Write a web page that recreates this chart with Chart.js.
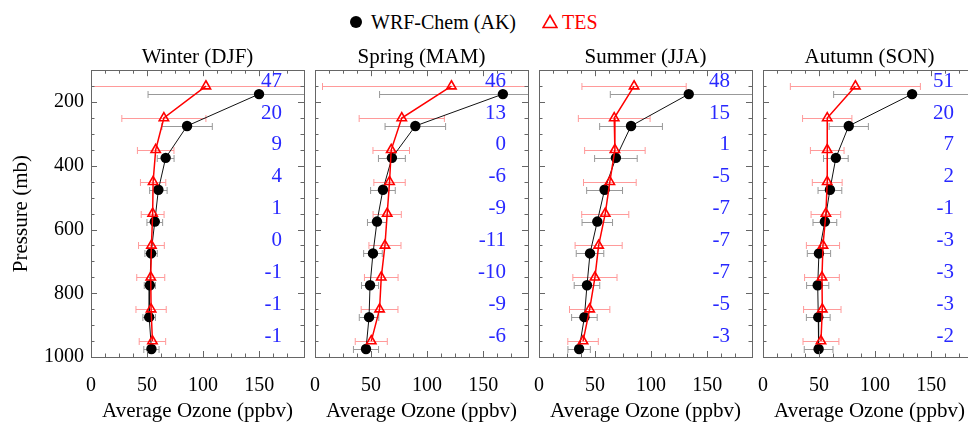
<!DOCTYPE html>
<html>
<head>
<meta charset="utf-8">
<script src="https://cdn.jsdelivr.net/npm/chart.js@4.4.1/dist/chart.umd.min.js"></script>
<style>
  body { margin: 0; width: 968px; height: 424px; overflow: hidden; background: #fff; position: relative;
         font-family: "Liberation Serif", "Times New Roman", serif; }
  canvas { position: absolute; top: 0; }
  .key { position: absolute; font-size: 20px; line-height: 24px; top: 10px; white-space: nowrap; }
  .dot { position: absolute; left: 350px; top: 16px; width: 12px; height: 12px; border-radius: 50%; background: #000; }
  .tri { position: absolute; left: 542px; top: 14px; }
</style>
</head>
<body>

<span class="dot"></span>
<span class="key" style="left:371px;color:#000">WRF-Chem (AK)</span>
<svg class="tri" width="16" height="15"><polygon points="8,1.5 15,13.5 1,13.5" fill="none" stroke="#ff0000" stroke-width="1.6"/></svg>
<span class="key" style="left:562px;color:#ff0000">TES</span>

<canvas id="panel0" width="311" height="424"></canvas>
<canvas id="panel1" width="311" height="424"></canvas>
<canvas id="panel2" width="311" height="424"></canvas>
<canvas id="panel3" width="311" height="424"></canvas>

<script>
var seasons = ["Winter (DJF)", "Spring (MAM)", "Summer (JJA)", "Autumn (SON)"];

// pressure levels (mb) of the two profiles
var tesPressure = [150, 250, 350, 450, 550, 650, 750, 850, 950];
var wrfPressure = [175, 275, 375, 475, 575, 675, 775, 875, 975];

// seasonal mean ozone (ppbv) and standard deviation
var wrfWinter   = [149.9, 85.7, 66.6, 60.1, 56.9, 53.6, 52.5, 51.9, 53.9];
var wrfWinterSd = [99, 22.5, 7.5, 7.8, 7, 5.5, 5, 5.6, 6.8];
var tesWinter   = [102.5, 65.0, 57.7, 55.4, 55.0, 53.9, 53.3, 53.6, 54.8];
var tesWinterSd = [110, 37.5, 16.3, 11.3, 10.2, 11.5, 12.5, 13.5, 11.8];

var wrfSpring   = [167.6, 89.5, 68.6, 60.6, 55.3, 51.7, 49.1, 48.2, 45.5];
var wrfSpringSd = [110, 27, 12, 11, 8.5, 8.3, 7.6, 8.7, 11.2];
var tesSpring   = [121.7, 77.4, 68.0, 66.5, 64.4, 62.4, 59.1, 57.6, 50.2];
var tesSpringSd = [115, 38, 16.3, 14, 12.6, 14.3, 15, 16.4, 14.3];

var wrfSummer   = [133.6, 82.1, 68.6, 58.5, 52.0, 45.5, 42.8, 40.5, 35.8];
var wrfSummerSd = [70, 28, 19, 16, 13.6, 12.3, 11.4, 11.4, 10];
var tesSummer   = [84.8, 67.1, 67.7, 63.2, 59.1, 53.2, 49.9, 45.2, 39.3];
var tesSummerSd = [46.5, 32, 27, 23.5, 21, 21, 19.7, 18, 13.6];

var wrfAutumn   = [133.0, 76.5, 65.0, 59.7, 55.2, 49.9, 48.8, 49.3, 49.6];
var wrfAutumnSd = [70, 17.5, 11, 10.6, 10.6, 10.4, 9.9, 10.6, 12.8];
var tesAutumn   = [82.4, 57.3, 57.3, 57.3, 56.1, 53.5, 52.6, 52.9, 51.7];
var tesAutumnSd = [58, 22, 15, 13.3, 13.2, 14.8, 15.5, 16.7, 16];

// model minus satellite difference printed beside each level
var biasWinter = [47, 20, 9, 4, 1, 0, -1, -1, -1];
var biasSpring = [46, 13, 0, -6, -9, -11, -10, -9, -6];
var biasSummer = [48, 15, 1, -5, -7, -7, -7, -5, -3];
var biasAutumn = [51, 20, 7, 2, -1, -3, -3, -3, -2];

var panelLeft = [91, 315, 539, 763];
var fontFamily = '"Liberation Serif", "Times New Roman", serif';

Chart.defaults.color = '#000';
Chart.defaults.font.family = fontFamily;
Chart.defaults.font.size = 20;

// horizontal error bars with end caps, drawn under the markers
var errorBars = {
  id: 'errorBars',
  beforeDatasetsDraw: function(chart) {
    var ctx = chart.ctx, area = chart.chartArea;
    var xs = chart.scales.x, ys = chart.scales.y;
    ctx.save();
    ctx.beginPath();
    ctx.rect(area.left, area.top, area.right - area.left, area.bottom - area.top);
    ctx.clip();
    chart.data.datasets.forEach(function(ds) {
      ctx.strokeStyle = ds.errorColor;
      ctx.lineWidth = 1;
      for (var i = 0; i < ds.data.length; i++) {
        var p = ds.data[i];
        var x1 = xs.getPixelForValue(p.x - ds.errors[i]);
        var x2 = xs.getPixelForValue(p.x + ds.errors[i]);
        var y = Math.round(ys.getPixelForValue(p.y)) + 0.5;
        ctx.beginPath();
        ctx.moveTo(x1, y); ctx.lineTo(x2, y);
        ctx.moveTo(x1, y - 3.5); ctx.lineTo(x1, y + 3.5);
        ctx.moveTo(x2, y - 3.5); ctx.lineTo(x2, y + 3.5);
        ctx.stroke();
      }
    });
    ctx.restore();
  }
};

// closed frame with inward tick marks on all four sides
var frame = {
  id: 'frame',
  afterDatasetsDraw: function(chart) {
    var ctx = chart.ctx, a = chart.chartArea;
    var xs = chart.scales.x, ys = chart.scales.y;
    ctx.save();
    ctx.strokeStyle = '#666';
    ctx.lineWidth = 1;
    ctx.strokeRect(Math.round(a.left) + 0.5, Math.round(a.top) + 0.5,
                   Math.round(a.right - a.left), Math.round(a.bottom - a.top));
    ctx.beginPath();
    xs.ticks.forEach(function(t) {
      if (t.value % 12.5 !== 0) return;
      var len = t.value % 50 === 0 ? 6 : 3.5;
      var x = Math.round(xs.getPixelForValue(t.value)) + 0.5;
      ctx.moveTo(x, a.bottom); ctx.lineTo(x, a.bottom - len);
      ctx.moveTo(x, a.top); ctx.lineTo(x, a.top + len);
    });
    ys.ticks.forEach(function(t) {
      var len = t.value % 200 === 0 ? 6 : 3.5;
      var y = Math.round(ys.getPixelForValue(t.value)) + 0.5;
      ctx.moveTo(a.left, y); ctx.lineTo(a.left + len, y);
      ctx.moveTo(a.right, y); ctx.lineTo(a.right - len, y);
    });
    ctx.stroke();
    ctx.restore();
  }
};

// blue difference numbers down the right side of each panel
var biasLabels = {
  id: 'biasLabels',
  afterDatasetsDraw: function(chart) {
    var bias = chart.options.plugins.biasLabels.values;
    var ctx = chart.ctx, ys = chart.scales.y;
    ctx.save();
    ctx.fillStyle = '#2828ff';
    ctx.font = '21px ' + fontFamily;
    ctx.textAlign = 'right';
    ctx.textBaseline = 'middle';
    for (var i = 0; i < bias.length; i++) {
      ctx.fillText(String(bias[i]), chart.chartArea.right - 22, ys.getPixelForValue(tesPressure[i]) - 5);
    }
    ctx.restore();
  }
};

function makePanel(idx, wrf, wrfSd, tes, tesSd, bias) {
  var canvas = document.getElementById('panel' + idx);
  canvas.style.left = (panelLeft[idx] - 91) + 'px';

  var wrfPts = [], tesPts = [];
  for (var i in wrf) wrfPts.push({ x: wrf[i], y: wrfPressure[i] });
  for (var j in tes) tesPts.push({ x: tes[j], y: tesPressure[j] });

  new Chart(canvas, {
    type: 'scatter',
    data: {
      datasets: [
        {
          label: 'TES',
          data: tesPts,
          showLine: true,
          borderColor: '#ff0000',
          borderWidth: 1.5,
          pointStyle: 'triangle',
          pointRadius: 5.4,
          pointBorderWidth: 1.6,
          pointBorderColor: '#ff0000',
          pointBackgroundColor: 'rgba(255,255,255,0)',
          errors: tesSd,
          errorColor: '#ff9a9a'
        },
        {
          label: 'WRF-Chem (AK)',
          data: wrfPts,
          showLine: true,
          borderColor: '#111',
          borderWidth: 1,
          pointStyle: 'circle',
          pointRadius: 5.2,
          pointBorderWidth: 0,
          pointBackgroundColor: '#000',
          errors: wrfSd,
          errorColor: '#999'
        }
      ]
    },
    options: {
      responsive: false,
      animation: false,
      layout: { padding: { top: 45, right: 6, left: 0, bottom: 0 } },
      plugins: {
        legend: { display: false },
        tooltip: { enabled: false },
        title: {
          display: true,
          fullSize: false,
          text: seasons[idx],
          color: '#000',
          font: { size: 21, weight: 'normal' },
          padding: { top: 0, bottom: 0 }
        },
        biasLabels: { values: bias }
      },
      scales: {
        x: {
          type: 'linear',
          min: 0,
          max: 190,
          // tick marks are drawn by the frame plugin; tickLength only spaces the labels
          grid: { display: false, drawTicks: true, tickLength: 17 },
          border: { display: false },
          ticks: {
            stepSize: 12.5,
            autoSkip: false,
            maxRotation: 0,
            padding: 0,
            callback: function(v) { return v % 50 === 0 ? v : ''; }
          },
          title: { display: true, text: 'Average Ozone (ppbv)', font: { size: 21 }, padding: { top: 0, bottom: 0 } },
          afterFit: function(s) { s.height = 67; }
        },
        y: {
          type: 'linear',
          reverse: true,
          min: 100,
          max: 1000,
          grid: { display: false, drawTicks: true, tickLength: 7 },
          border: { display: false },
          ticks: {
            display: idx === 0,
            stepSize: 50,
            autoSkip: false,
            padding: 0,
            callback: function(v) { return v % 200 === 0 ? v : ''; }
          },
          title: { display: idx === 0, text: 'Pressure (mb)', font: { size: 21 }, padding: { top: 9, bottom: 0 } },
          afterFit: function(s) { s.width = 91; }
        }
      }
    },
    plugins: [errorBars, frame, biasLabels]
  });
}

makePanel(0, wrfWinter, wrfWinterSd, tesWinter, tesWinterSd, biasWinter);
makePanel(1, wrfSpring, wrfSpringSd, tesSpring, tesSpringSd, biasSpring);
makePanel(2, wrfSummer, wrfSummerSd, tesSummer, tesSummerSd, biasSummer);
makePanel(3, wrfAutumn, wrfAutumnSd, tesAutumn, tesAutumnSd, biasAutumn);
</script>
</body>
</html>
